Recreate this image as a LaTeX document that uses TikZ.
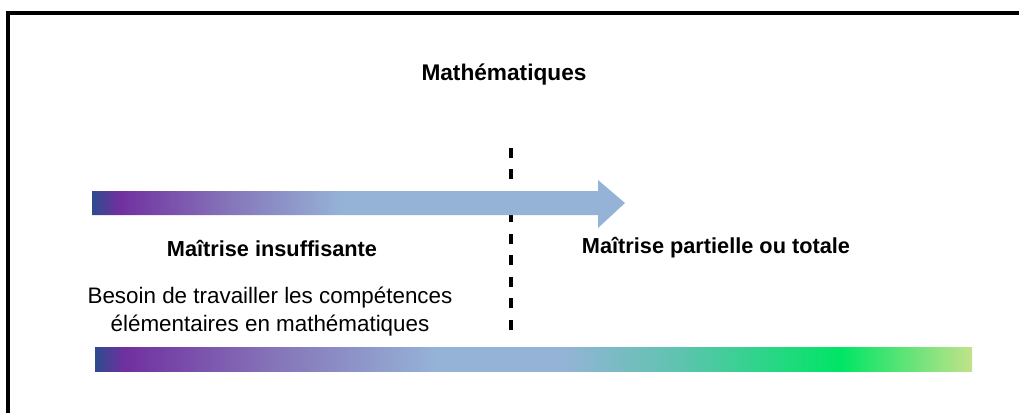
\documentclass[tikz,border=0pt]{standalone}
\usepackage{fontspec}
\setmainfont{Liberation Sans}
\usetikzlibrary{positioning}
\definecolor{DeepBlue}{HTML}{2E4B8E}
\definecolor{Violet}{HTML}{7030A0}
\definecolor{Lavender}{HTML}{8573B8}
\definecolor{SkyBlue}{HTML}{95B3D7}
\definecolor{Teal}{HTML}{5CC4AE}
\definecolor{Mint}{HTML}{00E565}
\definecolor{Lime}{HTML}{C2E28A}
\pgfdeclarehorizontalshading{arrowfade}{100bp}{color(0bp)=(DeepBlue); color(25bp)=(DeepBlue);
  color(27.5bp)=(Violet); color(37.5bp)=(Lavender); color(48.5bp)=(SkyBlue); color(100bp)=(SkyBlue)}
\pgfdeclarehorizontalshading{barfade}{100bp}{color(0bp)=(DeepBlue); color(25bp)=(DeepBlue);
  color(26.7bp)=(Violet); color(35bp)=(Lavender); color(44.5bp)=(SkyBlue); color(51.5bp)=(SkyBlue);
  color(58.5bp)=(Teal); color(67.5bp)=(Mint); color(75bp)=(Lime); color(100bp)=(Lime)}

\begin{document}
\begin{tikzpicture}[x=0.75pt,y=-0.75pt,
    heading/.style={font=\fontsize{17}{20}\selectfont\bfseries},
    level/.style={font=\fontsize{16.3}{19}\selectfont\bfseries},
    remark/.style={font=\fontsize{16.8}{21}\selectfont,align=center}]
    \useasboundingbox (0,0) rectangle (1019,412);
    \draw[line width=3.2pt,line join=miter] (8,420)--(8,13)--(1030,13);

    \node[heading] (title) at (504,75) {Mathématiques};

    % threshold
    \coordinate (cutTop) at (511,148);
    \coordinate (cutBot) at (511,330);
    \draw[line width=3.6pt,dash pattern=on 7.5pt off 8.6pt] (cutTop)--(cutBot);

    % arrow and scale bar
    \shade[shading=arrowfade] (92,191)--(598,191)--(598,180)--(625,203)
      --(598,228)--(598,215)--(92,215)--cycle;
    \shade[shading=barfade] (95,347) rectangle (972,371);

    \node[level] (low) at (272,248) {Maîtrise insuffisante};
    \node[level] (high) at (716,248) {Maîtrise partielle ou totale};
    \node[remark] (need) at (270,312)
      {Besoin de travailler les compétences\\élémentaires en mathématiques};
  \end{tikzpicture}
\end{document}
